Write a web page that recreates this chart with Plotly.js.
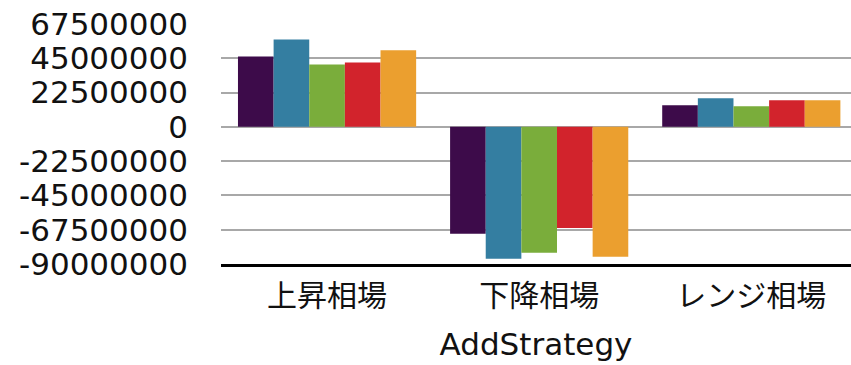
<!DOCTYPE html>
<html>
<head>
<meta charset="utf-8">
<script src="https://cdn.plot.ly/plotly-3.0.1.min.js"></script>
<style>html,body{margin:0;padding:0;background:#fff;}#chart{width:851px;height:365px;}</style>
</head>
<body>
<div id="chart"></div>
<script>
var categories = ["上昇相場", "下降相場", "レンジ相場"];
var seriesNames = ["Series1", "Series2", "Series3", "Series4", "Series5"];
var series1 = [46200000, -70200000, 14200000];
var series2 = [57400000, -86500000, 18800000];
var series3 = [41000000, -82600000, 13500000];
var series4 = [42300000, -66300000, 17500000];
var series5 = [50200000, -85200000, 17500000];
var colors = ["#3d0b4a", "#347ea1", "#7aad3b", "#d2232c", "#eb9f2f"];
var tickVals = [-90000000, -67500000, -45000000, -22500000, 0, 22500000, 45000000, 67500000];
var tickText = ["-90000000", "-67500000", "-45000000", "-22500000", "0", "22500000", "45000000", "67500000"];

var allSeries = [series1, series2, series3, series4, series5];
var traces = allSeries.map(function (vals, i) {
  return {
    type: "bar",
    x: categories,
    y: vals,
    name: seriesNames[i],
    marker: { color: colors[i], line: { width: 0 } },
    hoverinfo: "skip"
  };
});

var fontFam = "DejaVu Sans, Noto Sans CJK JP, sans-serif";
var layout = {
  width: 851,
  height: 365,
  margin: { l: 221, r: 0, t: 24, b: 101, pad: 0 },
  paper_bgcolor: "#ffffff",
  plot_bgcolor: "#ffffff",
  showlegend: false,
  barmode: "group",
  bargap: 0.16,
  bargroupgap: 0,
  xaxis: {
    type: "category",
    range: [-0.5, 2.47],
    showgrid: false,
    showline: true,
    linecolor: "#000000",
    linewidth: 3,
    ticks: "",
    tickfont: { family: "Noto Sans CJK JP, sans-serif", size: 30, color: "#111111" },
    ticklabelstandoff: 3,
    title: { text: "AddStrategy", font: { family: fontFam, size: 31, color: "#111111" }, standoff: 20 },
    automargin: false
  },
  yaxis: {
    range: [-90000000, 67500000],
    tickmode: "array",
    tickvals: tickVals,
    ticktext: tickText,
    showgrid: true,
    gridcolor: "#a8a8a8",
    gridwidth: 2,
    zeroline: true,
    zerolinecolor: "#a8a8a8",
    zerolinewidth: 2,
    showline: false,
    ticks: "",
    ticklabelstandoff: 32,
    tickfont: { family: fontFam, size: 31, color: "#111111" },
    automargin: false
  }
};

Plotly.newPlot("chart", traces, layout, { staticPlot: true, displayModeBar: false });
</script>
</body>
</html>
